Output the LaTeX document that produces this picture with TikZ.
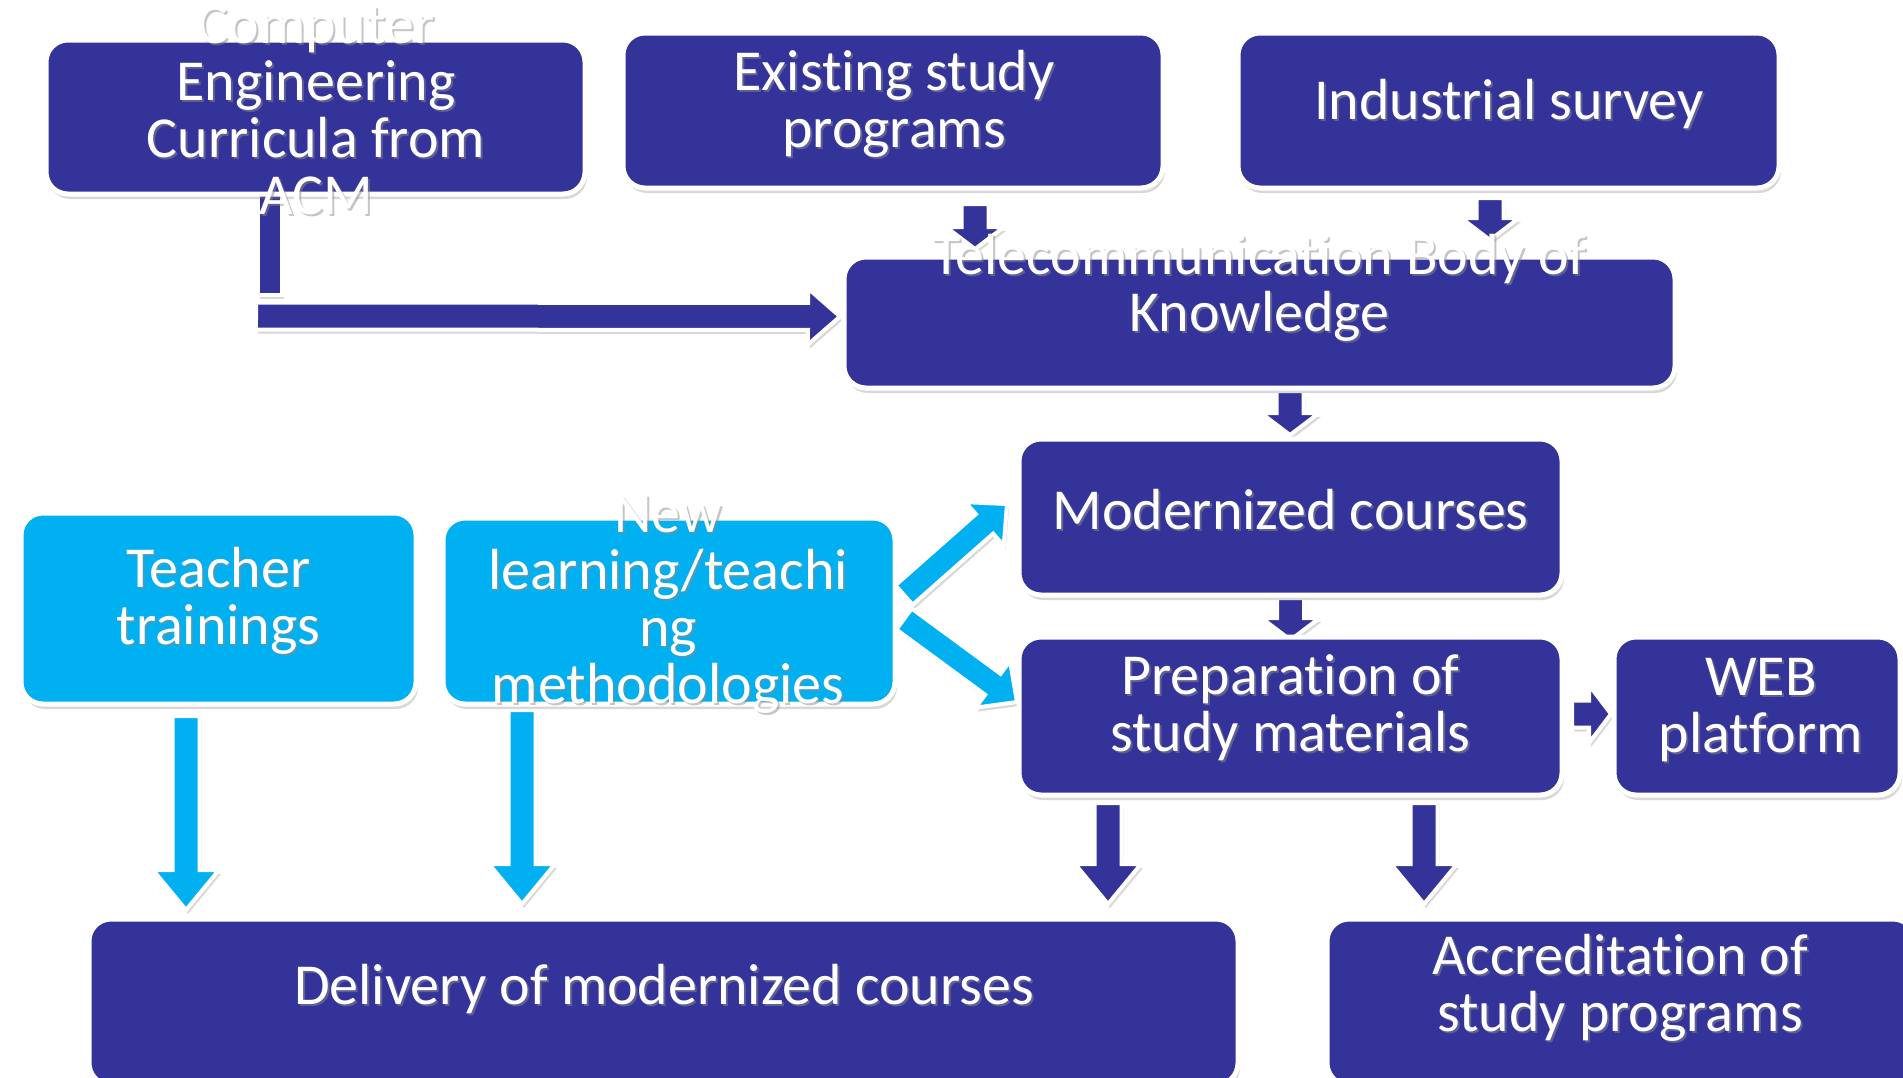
\documentclass[tikz,border=0pt]{standalone}
\usepackage{fontspec}
\setmainfont{Carlito}[Ligatures=CommonOff]
\usetikzlibrary{calc,shadows}
\definecolor{dblue}{HTML}{333399}
\definecolor{lblue}{HTML}{00B0F0}
\pgfdeclarelayer{bg}
\pgfsetlayers{bg,main}
\tikzset{
  box/.style={draw=white, line width=5pt, rounded corners=22pt, outer sep=0pt, inner sep=0pt, anchor=north west,
    drop shadow={opacity=0.3, shadow xshift=2pt, shadow yshift=-5pt}},
  darkbox/.style={box, fill=dblue},
  lightbox/.style={box, fill=lblue},
  blockarrow/.style={draw=white, line width=4pt, line join=miter,
    drop shadow={opacity=0.3, shadow xshift=2pt, shadow yshift=-4pt}},
  lbl/.style={text=white, align=center, inner sep=0pt, font=\fontsize{58}{57}\selectfont},
  lblshadow/.style={lbl, text=black!45, opacity=0.5},
}
% style, name, x1, y1, x2, y2
\newcommand\boxat[6]{\node[#1, minimum width={#5-#3}, minimum height={#6-#4}] (#2) at (#3,#4) {};}
% name, box, dx, dy, text
\newcommand\lbltext[5]{%
  \node[lblshadow] (#1s) at ($(#2.center)+({#3+2},{#4+2})$) {#5};
  \node[lbl] (#1) at ($(#2.center)+(#3,#4)$) {#5};}
% color, start, end, half shaft, half head, head length
\newcommand\blockarr[6]{%
  \coordinate (as) at (#2);
  \coordinate (ae) at (#3);
  \coordinate (ah) at ($(ae)!#6!(as)$);
  \path[blockarrow, fill=#1] ($(as)!#4!90:(ae)$) -- ($(ah)!#4!90:(ae)$) -- ($(ah)!#5!90:(ae)$) -- (ae)
    -- ($(ah)!#5!-90:(ae)$) -- ($(ah)!#4!-90:(ae)$) -- ($(as)!#4!-90:(ae)$) -- cycle;}
\begin{document}
\begin{tikzpicture}[x=1pt,y=-1pt]
\useasboundingbox (0,0) rectangle (1903,1077);
\begin{pgfonlayer}{bg}
\fill[white] (0,0) rectangle (1903,1077);
\end{pgfonlayer}
% boxes
\boxat{darkbox}{A}{46}{40}{585}{194}
\boxat{darkbox}{B}{623}{33}{1163}{188}
\boxat{darkbox}{C}{1238}{33}{1779}{188}
\boxat{darkbox}{D}{844}{257}{1675}{388}
\boxat{darkbox}{E}{1019}{439}{1562}{595}
\boxat{darkbox}{F}{1019}{637}{1562}{795}
\boxat{darkbox}{G}{1614}{637}{1900}{795}
\boxat{lightbox}{H}{21}{513}{416}{704}
\boxat{lightbox}{I}{443}{518}{895}{704}
\boxat{darkbox}{J}{89}{919}{1238}{1085}
\boxat{darkbox}{K}{1327}{919}{1915}{1085}
% connectors
\begin{pgfonlayer}{bg}
\path[blockarrow, fill=dblue] ($(A.south)+(-57.5,-20)$) rectangle ($(A.south)+(-33.5,101)$);
\coordinate (bend) at ($(A.south)+(-59.5,122)$);
\blockarr{dblue}{bend}{$(D.west)+(-4,-6)$}{13.5pt}{28pt}{32pt}
\blockarr{dblue}{$(B.south)+(82,16)$}{$(D.north)+(-284.5,-8)$}{13.5pt}{29pt}{22pt}
\blockarr{dblue}{$(C.south)+(-18.5,10)$}{$(D.north)+(230.5,-17)$}{13.5pt}{29pt}{22pt}
\blockarr{dblue}{$(D.south)+(30.5,3)$}{$(E.north)+(-0.5,-4)$}{13.5pt}{29pt}{22pt}
\blockarr{dblue}{$(E.south)+(0,3)$}{$(F.north)+(0,3)$}{13.5pt}{29pt}{22pt}
\blockarr{dblue}{$(F.east)+(10,-2)$}{$(G.west)+(-3,-2)$}{13.5pt}{29pt}{22pt}
\blockarr{lblue}{$(H.south)+(-32.5,12)$}{$(J.north)+(-477.5,-9)$}{13.5pt}{33pt}{40pt}
\blockarr{lblue}{$(I.south)+(-147,6)$}{$(J.north)+(-141.5,-15)$}{13.5pt}{33pt}{40pt}
\blockarr{dblue}{$(F.south)+(-182.5,8)$}{$(J.north)+(444.5,-15)$}{13.5pt}{33pt}{40pt}
\blockarr{dblue}{$(F.south)+(133.5,8)$}{$(K.north)+(-197,-15)$}{13.5pt}{33pt}{40pt}
\blockarr{lblue}{$(I.east)+(9,-16)$}{$(E.west)+(-12,-13)$}{13pt}{29pt}{30pt}
\blockarr{lblue}{$(I.east)+(9,8)$}{$(F.west)+(-2,-14)$}{13pt}{29pt}{30pt}
\end{pgfonlayer}
% texts
\lbltext{tA}{A}{0.5}{-6.5}{Computer\\Engineering\\Curricula from\\ACM}
\lbltext{tB}{B}{1}{-7}{Existing study\\programs}
\lbltext{tC}{C}{0.5}{-6.5}{Industrial survey}
\lbltext{tD}{D}{0}{-34.5}{Telecommunication Body of\\Knowledge}
\lbltext{tE}{E}{0}{-7}{Modernized courses}
\lbltext{tF}{F}{0}{-8}{Preparation of\\study materials}
\lbltext{tG}{G}{4}{-6}{WEB\\platform}
\lbltext{tH}{H}{0}{-7.5}{Teacher\\trainings}
\lbltext{tI}{I}{-1}{-7}{New\\learning/teachi\\ng\\methodologies}
\lbltext{tJ}{J}{0.5}{-13}{Delivery of modernized courses}
\lbltext{tK}{K}{-1}{-14}{Accreditation of\\study programs}
\end{tikzpicture}
\end{document}
